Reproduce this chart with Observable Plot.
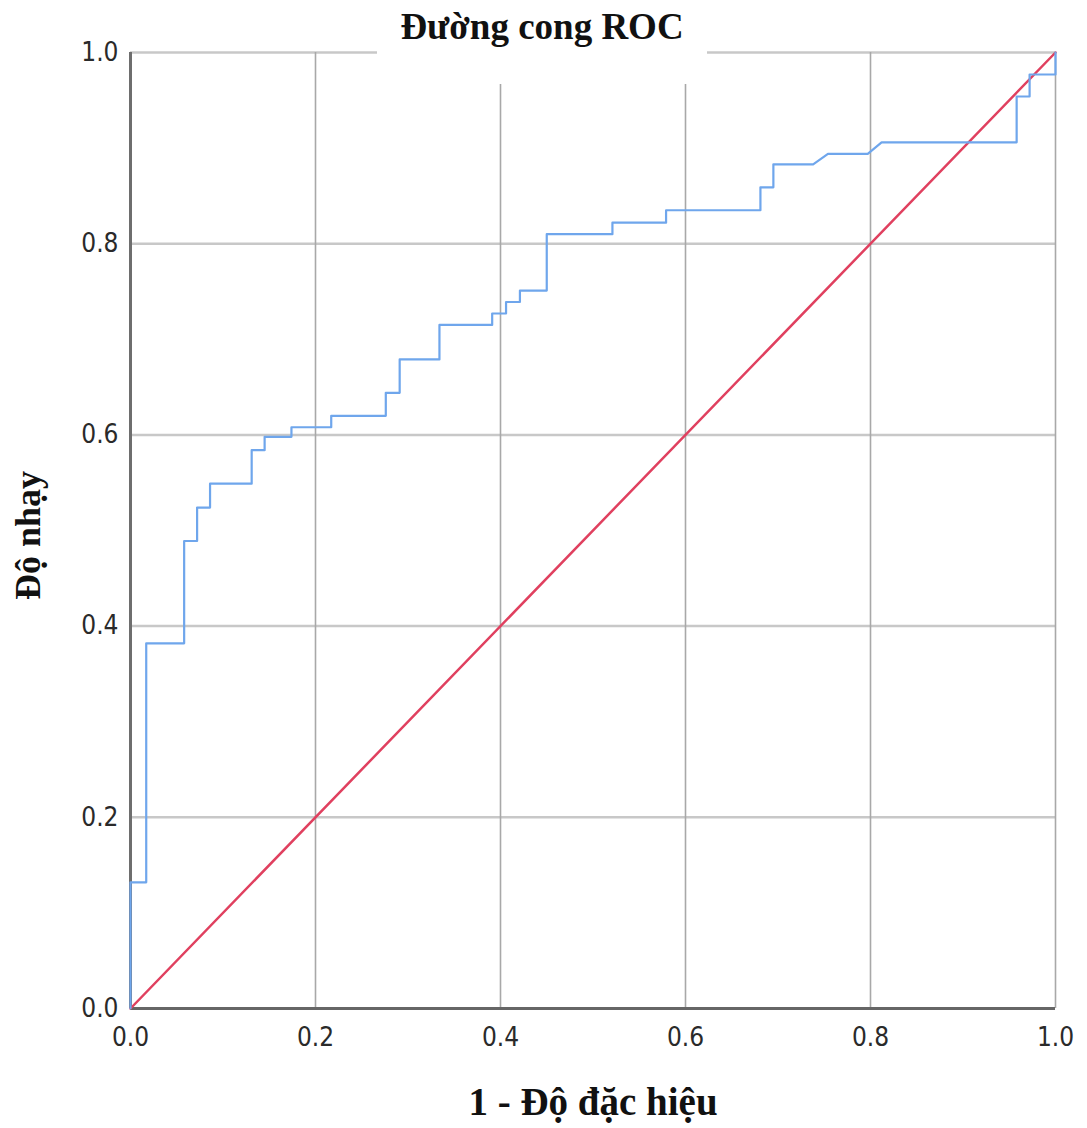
<!DOCTYPE html>
<html>
<head>
<meta charset="utf-8">
<script src="https://cdn.jsdelivr.net/npm/d3@7"></script>
<script src="https://cdn.jsdelivr.net/npm/@observablehq/plot@0.6"></script>
<style>
  body { margin: 0; background: #fff; }
  #wrap { position: relative; width: 1087px; height: 1128px; }
  #title {
    position: absolute; left: 377px; top: 0; width: 330px; height: 84px;
    background: #fff; text-align: center;
    font-family: "Liberation Serif", "DejaVu Serif", serif; font-weight: bold;
    font-size: 37px; line-height: 54px; color: #111;
  }
</style>
</head>
<body>
<div id="wrap"><div id="chart"></div><div id="title">Đường cong ROC</div></div>
<script>
const titleText = "Đường cong ROC";
const xLabel = "1 - Độ đặc hiệu";
const yLabel = "Độ nhạy";
const ticks = [0, 0.2, 0.4, 0.6, 0.8, 1.0];
const tickLabels = ["0.0", "0.2", "0.4", "0.6", "0.8", "1.0"];

// ROC curve vertices (1 - specificity, sensitivity)
const fpr = [0,0,0.017,0.017,0.058,0.058,0.072,0.072,0.086,0.086,0.131,0.131,0.145,0.145,0.174,0.174,0.217,0.217,0.276,0.276,0.291,0.291,0.334,0.334,0.391,0.391,0.406,0.406,0.421,0.421,0.45,0.45,0.521,0.521,0.579,0.579,0.681,0.681,0.695,0.695,0.738,0.754,0.797,0.812,0.958,0.958,0.972,0.972,1.0,1.0];
const tpr = [0,0.132,0.132,0.382,0.382,0.489,0.489,0.524,0.524,0.549,0.549,0.584,0.584,0.598,0.598,0.608,0.608,0.620,0.620,0.644,0.644,0.679,0.679,0.715,0.715,0.727,0.727,0.739,0.739,0.751,0.751,0.810,0.810,0.822,0.822,0.835,0.835,0.859,0.859,0.883,0.883,0.894,0.894,0.906,0.906,0.954,0.954,0.977,0.977,1.0];
// Reference line
const refX = [0, 1];
const refY = [0, 1];

const roc = fpr.map((x, i) => ({x, y: tpr[i]}));
const ref = refX.map((x, i) => ({x, y: refY[i]}));
const fmt = d => tickLabels[ticks.indexOf(d)] ?? d3.format(".1f")(d);

const tickFont = '"Liberation Sans Narrow", "DejaVu Sans Condensed", "Liberation Sans", sans-serif';
const labelFont = '"Liberation Serif", "DejaVu Serif", serif';

const chart = Plot.plot({
  width: 1087,
  height: 1128,
  marginLeft: 130,
  marginRight: 32,
  marginTop: 52,
  marginBottom: 120,
  x: {domain: [0, 1]},
  y: {domain: [0, 1]},
  style: {background: "#fff"},
  marks: [
    Plot.gridY(ticks.slice(1), {stroke: "#c8c8c8", strokeOpacity: 1, strokeWidth: 2.5}),
    Plot.gridX(ticks.slice(1), {stroke: "#a8a8a8", strokeOpacity: 1, strokeWidth: 1.6}),
    Plot.ruleX([0], {stroke: "#6e6e6e", strokeWidth: 3}),
    Plot.ruleY([0], {stroke: "#666", strokeWidth: 3}),
    Plot.axisX(ticks, {tickSize: 0, tickPadding: 19, tickFormat: fmt, fontSize: 26, fontFamily: tickFont, fill: "#2a2a2a", label: null}),
    Plot.axisY(ticks, {tickSize: 0, tickPadding: 12, tickFormat: fmt, fontSize: 26, fontFamily: tickFont, fill: "#2a2a2a", label: null}),
    Plot.line(ref, {x: "x", y: "y", stroke: "#e0405f", strokeWidth: 2.5}),
    Plot.line(roc, {x: "x", y: "y", stroke: "#6fa6ec", strokeWidth: 2.2}),
    Plot.text([xLabel], {frameAnchor: "bottom", dy: 106, text: d => d, fontSize: 39, fontWeight: "bold", fontFamily: labelFont, fill: "#111"}),
    Plot.text([yLabel], {frameAnchor: "left", textAnchor: "middle", dx: -102, dy: 5, rotate: -90, text: d => d, fontSize: 36, fontWeight: "bold", fontFamily: labelFont, fill: "#111"})
  ]
});
document.getElementById("chart").appendChild(chart);
</script>
</body>
</html>
